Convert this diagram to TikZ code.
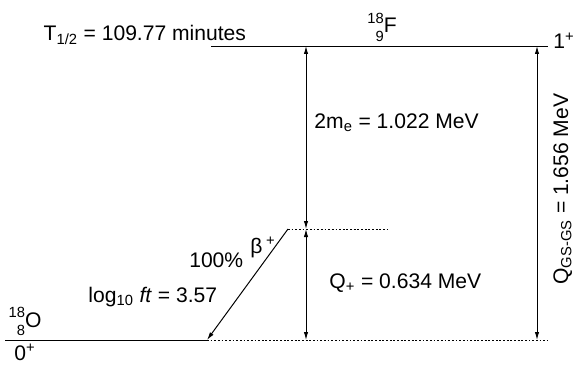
\documentclass[tikz,border=0pt]{standalone}
\usepackage{fontspec}
\setmainfont{Liberation Sans}
\usetikzlibrary{arrows.meta}
\newcommand\nucl[3]{\raisebox{0.85ex}{\fontsize{10.5}{12}\selectfont #1}\llap{\raisebox{-0.75ex}{\fontsize{10.5}{12}\selectfont #2}}#3}

\begin{document}
\begin{tikzpicture}[>={Latex[length=2mm,width=1.1mm]},font=\fontsize{15}{18}\selectfont,line width=0.7pt,
  lvl/.style={dash pattern=on 1.3pt off 1.3pt},
  lbl/.style={inner sep=0pt,anchor=base west}]
\useasboundingbox (0,0) rectangle (14.325,9.175);
% levels
\coordinate (fl) at (5.275,8.025);
\coordinate (fr) at (13.7,8.025);
\coordinate (ml) at (7.2,3.45);
\coordinate (mr) at (9.675,3.45);
\coordinate (ol) at (0.125,0.675);
\coordinate (om) at (5.175,0.675);
\coordinate (or) at (13.7,0.675);
\draw (fl) -- (fr);
\draw (ol) -- (om);
\draw[lvl] (om) -- (or);
\draw[lvl] (ml) -- (mr);
% energy gaps
\coordinate (a1) at (7.65,8.025);
\coordinate (a2) at (7.65,3.45);
\coordinate (a3) at (7.65,0.675);
\coordinate (b1) at (13.425,8.025);
\coordinate (b2) at (13.425,0.675);
\draw[<->] (a1) -- (a2);
\draw[<->] (a2) -- (a3);
\draw[<->] (b1) -- (b2);
% beta+ branch
\draw[->] (ml) -- (om);
% labels
\node[lbl] (thalf) at (1.08,8.16) {T\textsubscript{1/2} = 109.77 minutes};
\node[lbl,anchor=base] (fnuc) at (9.55,8.35) {\nucl{18}{9}{F}};
\node[lbl] (fspin) at (13.82,7.95) {1\textsuperscript{+}};
\node[lbl,anchor=base] (onuc) at (0.625,1.0) {\nucl{18}{8}{O}};
\node[lbl] (ospin) at (0.35,0.175) {0\textsuperscript{+}};
\node[lbl] (twome) at (7.85,5.975) {2m\textsubscript{e} = 1.022 MeV};
\node[lbl] (qplus) at (8.225,1.975) {Q\textsubscript{+} = 0.634 MeV};
\node[lbl,rotate=90] (qgs) at (14.2,2.05) {Q\textsubscript{GS-GS} = 1.656 MeV};
\node[lbl] (branch) at (4.72,2.5) {100\%};
\node[lbl] (beta) at (6.25,2.85) {β\,\textsuperscript{+}};
\node[lbl] (logft) at (2.2,1.625) {log\textsubscript{10} \textit{ft} = 3.57};
\end{tikzpicture}
\end{document}
